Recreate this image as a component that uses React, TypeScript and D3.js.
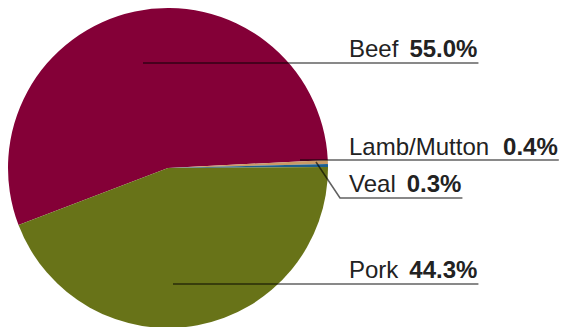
import React from "react";
import * as d3 from "d3";

const categories = ["Beef", "Lamb/Mutton", "Veal", "Pork"];
const values = [55.0, 0.4, 0.3, 44.3];
const valueLabels = ["55.0%", "0.4%", "0.3%", "44.3%"];
const colors = ["#840037", "#c99a66", "#1d5f8f", "#687318"];

const W = 571;
const H = 327;
const cx = 168;
const cy = 168;
const R = 160;
const startDeg = -110.9;

const labelLayout = [
  { tx: 349, ty: 57, ly: 63, lx0: 143, elbow: null as null | [number, number] },
  { tx: 349, ty: 155, ly: 160, lx0: 300, elbow: null },
  { tx: 349, ty: 192, ly: 198, lx0: 316, elbow: [316, 162] as [number, number] },
  { tx: 349, ty: 278, ly: 284, lx0: 173, elbow: null },
];

export default function App() {
  const start = (startDeg * Math.PI) / 180;
  const pie = d3
    .pie<number>()
    .sort(null)
    .startAngle(start)
    .endAngle(start + 2 * Math.PI)
    .value((d) => d);
  const arcs = pie(values);
  const arc = d3.arc<d3.PieArcDatum<number>>().innerRadius(0).outerRadius(R);

  const font = "'Liberation Sans', Arial, Helvetica, sans-serif";
  const fs = 24;

  return (
    <svg
      width={W}
      height={H}
      style={{ position: "absolute", left: 0, top: 0 }}
      viewBox={`0 0 ${W} ${H}`}
    >
      <rect width={W} height={H} fill="#fff" />
      <g transform={`translate(${cx},${cy})`}>
        {arcs.map((a, i) => (
          <path key={i} d={arc(a) || ""} fill={colors[i]} />
        ))}
      </g>
      {categories.map((c, i) => {
        const L = labelLayout[i];
        return (
          <text
            key={c}
            x={L.tx}
            y={L.ty}
            fontFamily={font}
            fontSize={fs}
            fill="#222"
          >
            <tspan>{c}</tspan>
            <tspan dx={i === 1 ? 14 : 11} fontWeight="bold">
              {valueLabels[i]}
            </tspan>
          </text>
        );
      })}
      <Underlines />
    </svg>
  );
}

function Underlines() {
  const [ends, setEnds] = React.useState<number[] | null>(null);
  const ref = React.useRef<SVGGElement>(null);
  React.useEffect(() => {
    if (!ref.current) return;
    const texts = ref.current.parentNode!.querySelectorAll("text");
    const e: number[] = [];
    texts.forEach((t) => {
      const b = (t as SVGTextElement).getBBox();
      e.push(b.x + b.width + 1);
    });
    setEnds(e);
  }, []);
  return (
    <g ref={ref}>
      {labelLayout.map((L, i) => {
        const xe = ends ? ends[i] : 470;
        const pts: [number, number][] = L.elbow
          ? [L.elbow, [340, L.ly], [xe, L.ly]]
          : [
              [L.lx0, L.ly],
              [xe, L.ly],
            ];
        return (
          <path
            key={i}
            d={d3.line()(pts) || ""}
            fill="none"
            stroke="#000"
            strokeOpacity={0.62}
            strokeWidth={1.6}
          />
        );
      })}
    </g>
  );
}
